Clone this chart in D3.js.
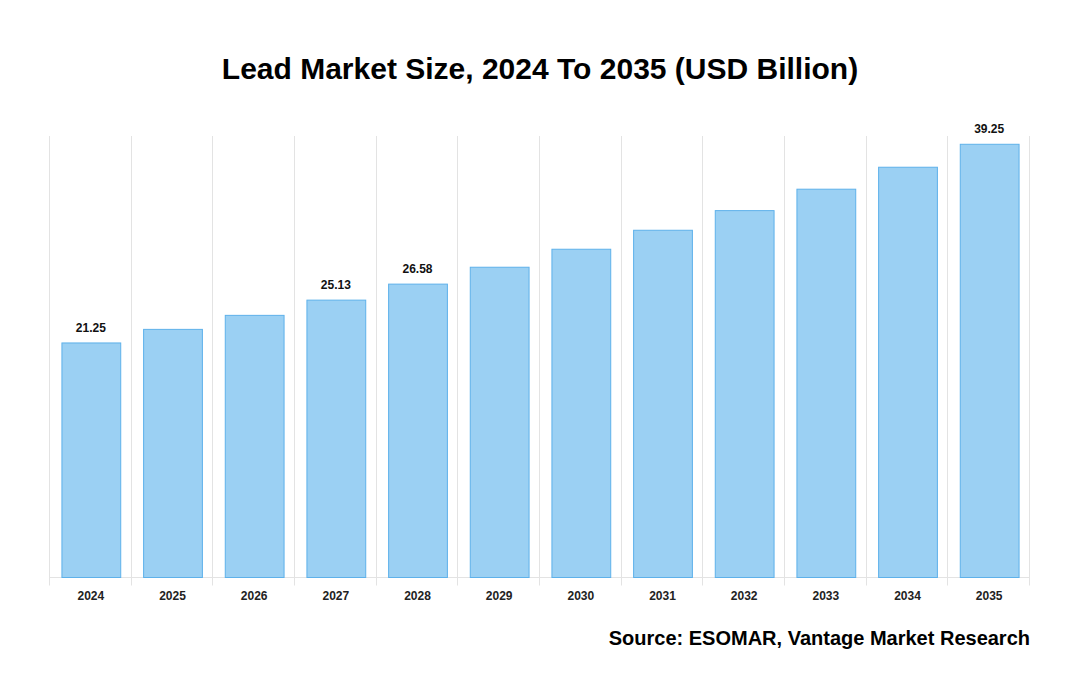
<!DOCTYPE html>
<html><head><meta charset="utf-8">
<script src="https://cdn.jsdelivr.net/npm/d3@7"></script>
<style>html,body{margin:0;padding:0;background:#fff;}svg{display:block;}</style>
</head><body>
<svg id="chart" width="1080" height="700"></svg>
<script>
const years = ["2024","2025","2026","2027","2028","2029","2030","2031","2032","2033","2034","2035"];
const values = [21.25,22.48,23.75,25.13,26.58,28.11,29.74,31.46,33.24,35.18,37.17,39.25];
const labelledYears = ["2024","2027","2028","2035"];
const titleText = "Lead Market Size, 2024 To 2035 (USD Billion)";
const sourceText = "Source: ESOMAR, Vantage Market Research";

const svg = d3.select("#chart");
const pLeft = 50, pRight = 1030, pTop = 136, pBottom = 577.5;
const x = d3.scaleBand().domain(years).range([pLeft, pRight]).paddingInner(0.28).paddingOuter(0.14);
const xb = d3.scaleBand().domain(years).range([pLeft, pRight]);
const y = d3.scaleLinear().domain([0, 40]).range([pBottom, pTop]);

// vertical gridlines at band edges
const edges = years.map(d => xb(d)).concat([pRight]);
svg.append("g").selectAll("line").data(edges).join("line")
  .attr("x1", d => Math.round(d) - 0.5).attr("x2", d => Math.round(d) - 0.5)
  .attr("y1", pTop).attr("y2", pBottom + 8)
  .attr("stroke", "#e3e3e3").attr("stroke-width", 1);

// baseline
svg.append("line").attr("x1", pLeft).attr("x2", pRight)
  .attr("y1", 577.5).attr("y2", 577.5)
  .attr("stroke", "#e3e3e3");

// bars
svg.append("g").selectAll("rect").data(years).join("rect")
  .attr("x", d => x(d) + 0.5)
  .attr("y", (d, i) => y(values[i]))
  .attr("width", x.bandwidth())
  .attr("height", (d, i) => pBottom - y(values[i]))
  .attr("fill", "#9bd0f3")
  .attr("stroke", "#5eb1ea")
  .attr("stroke-width", 1);

// value labels
svg.append("g").selectAll("text").data(years.filter(d => labelledYears.includes(d))).join("text")
  .attr("x", d => x(d) + x.bandwidth() / 2)
  .attr("y", d => y(values[years.indexOf(d)]) - 11)
  .attr("text-anchor", "middle")
  .attr("font-family", "Liberation Sans, Arial, sans-serif")
  .attr("font-weight", "bold").attr("font-size", 12).attr("fill", "#111")
  .text(d => values[years.indexOf(d)].toFixed(2));

// x axis labels
svg.append("g").selectAll("text").data(years).join("text")
  .attr("x", d => xb(d) + xb.bandwidth() / 2)
  .attr("y", 600)
  .attr("text-anchor", "middle")
  .attr("font-family", "Liberation Sans, Arial, sans-serif")
  .attr("font-weight", "bold").attr("font-size", 12).attr("fill", "#222")
  .text(d => d);

// title
svg.append("text").attr("x", 540).attr("y", 79).attr("text-anchor", "middle")
  .attr("font-family", "Liberation Sans, Arial, sans-serif")
  .attr("font-weight", "bold").attr("font-size", 30).attr("fill", "#000")
  .text(titleText);

// source
svg.append("text").attr("x", 1030).attr("y", 645).attr("text-anchor", "end")
  .attr("font-family", "Liberation Sans, Arial, sans-serif")
  .attr("font-weight", "bold").attr("font-size", 20).attr("fill", "#000")
  .text(sourceText);
</script>
</body></html>
